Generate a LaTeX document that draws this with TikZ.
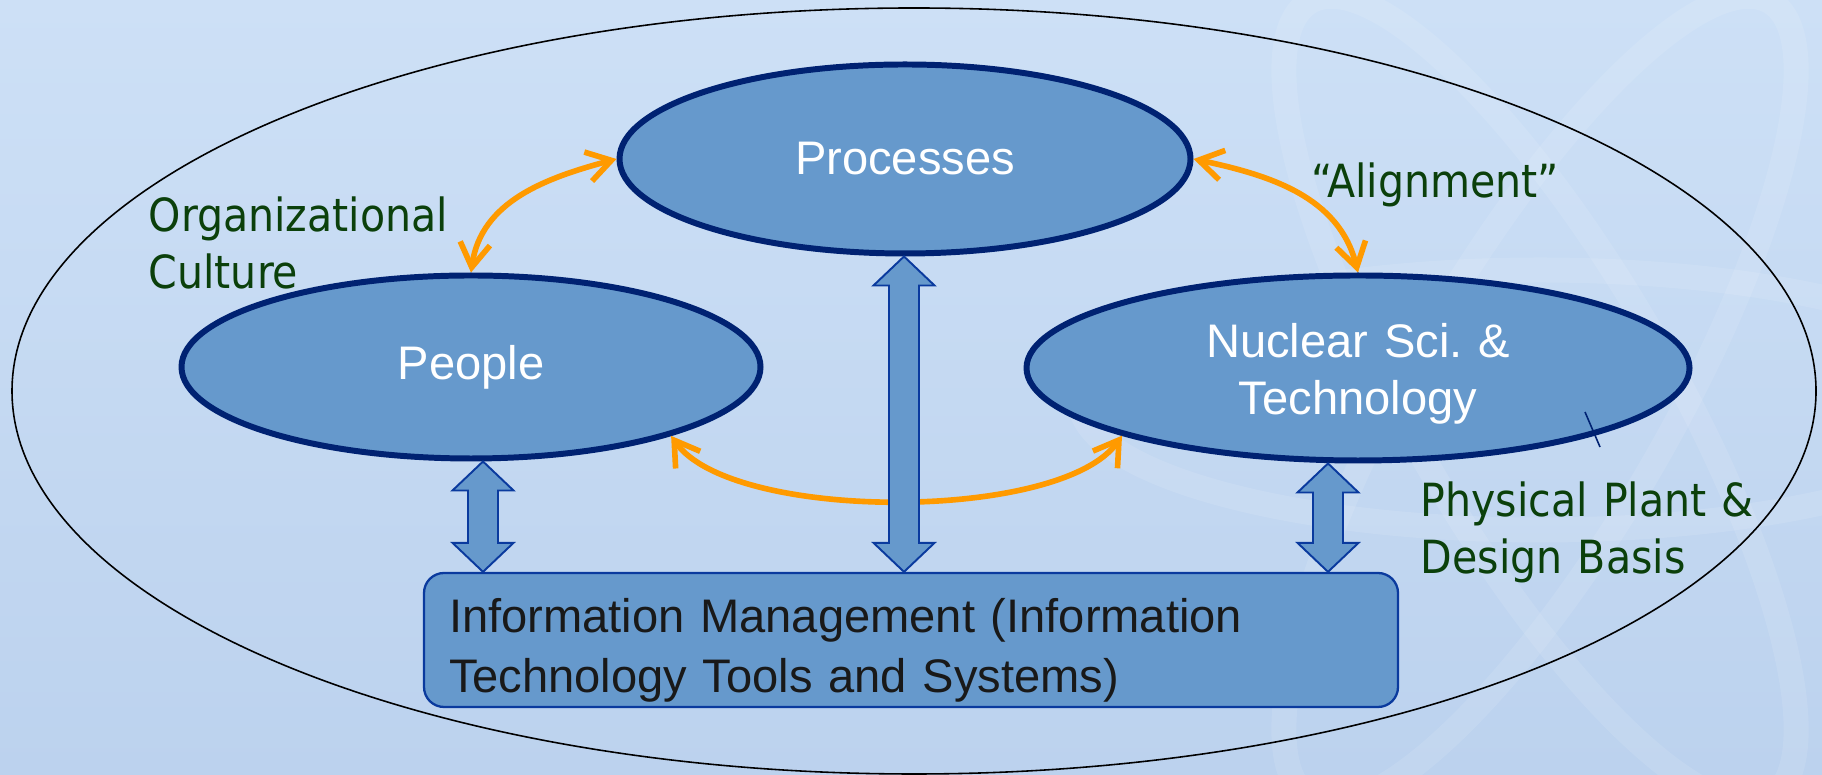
\documentclass[tikz,border=0pt]{standalone}
\usepackage{fontspec}
\setmainfont{Liberation Sans}
\newfontfamily\labelfont{DejaVu Sans Condensed}
\usetikzlibrary{shapes.geometric, arrows.meta, calc}

\definecolor{bgtop}{HTML}{CDE0F6}
\definecolor{bgbottom}{HTML}{BCD2EE}
\definecolor{boxblue}{HTML}{6699CC}
\definecolor{rimnavy}{HTML}{002272}
\definecolor{edgeblue}{HTML}{0A3A9E}
\definecolor{linkorange}{HTML}{FF9A00}
\definecolor{labelgreen}{HTML}{0B400B}

% two-headed vertical block arrow from #1 (top) to #2 (bottom)
\newcommand{\blockarrow}[2]{%
  \draw[blockarrow] let \p1 = (#1), \p2 = (#2) in
    (\x1, \y1) -- (\x1 + 3.05mm, \y1 - 2.9mm) -- (\x1 + 1.5mm, \y1 - 2.9mm)
    -- (\x1 + 1.5mm, \y2 + 2.9mm) -- (\x1 + 3.05mm, \y2 + 2.9mm) -- (\x1, \y2)
    -- (\x1 - 3.05mm, \y2 + 2.9mm) -- (\x1 - 1.5mm, \y2 + 2.9mm)
    -- (\x1 - 1.5mm, \y1 - 2.9mm) -- (\x1 - 3.05mm, \y1 - 2.9mm) -- cycle;}

\begin{document}
\begin{tikzpicture}[
    bubble/.style={ellipse, draw=rimnavy, line width=1.7pt, fill=boxblue, text=white,
      inner sep=0pt, font=\fontsize{13.4}{16.2}\selectfont},
    infobox/.style={rectangle, rounded corners=0.2cm, draw=edgeblue, line width=0.65pt,
      fill=boxblue, text=black!90, inner ysep=0pt, inner xsep=0.25cm, align=left,
      font=\fontsize{13.4}{16.8}\selectfont},
    greenlabel/.style={text=labelgreen, inner sep=0pt, align=left,
      font=\labelfont\fontsize{13}{16.2}\selectfont},
    link/.style={draw=linkorange, line width=1.6pt,
      {Straight Barb[length=2.4mm,width=3mm]}-{Straight Barb[length=2.4mm,width=3mm]}},
    blockarrow/.style={draw=edgeblue, line width=0.55pt, fill=boxblue, line join=miter}
  ]
  % background and the faint atom behind
  \shade[top color=bgtop, bottom color=bgbottom] (0,0) rectangle (18.22,-7.75);
  \useasboundingbox (0,0) rectangle (18.22,-7.75);
  \begin{scope}
    \clip (0,0) rectangle (18.22,-7.75);
    \foreach \a in {0, 60, 120}{
      \draw[white, opacity=0.1, line width=2.5mm, rotate around={\a:(15.4,-4.0)}]
        (15.4,-4.0) ellipse [x radius=4.6, y radius=1.3];
    }
  \end{scope}

  % the enclosing ellipse
  \draw[black, line width=0.45pt] (9.14,-3.91) ellipse [x radius=9.02, y radius=3.83];

  % the three ellipses
  \node[bubble, minimum width=5.71cm, minimum height=1.89cm] (processes) at (9.05,-1.59) {Processes};
  \node[bubble, minimum width=5.79cm, minimum height=1.83cm] (people) at (4.71,-3.67) {People};
  \node[bubble, minimum width=6.63cm, minimum height=1.85cm, text width=3.7cm, align=center,
    text height=0.47cm, text depth=0.67cm] (nuclear) at (13.58,-3.68) {Nuclear Sci.\ \&\\Technology};
  \draw[rimnavy, line width=0.45pt] (15.85,-4.12) -- (16.00,-4.47);

  % information management box
  \node[infobox, minimum width=9.74cm, minimum height=1.34cm, text width=9.24cm,
    text height=0.55cm, text depth=0.69cm] (info) at (9.11,-6.40)
    {Information Management (Information\\Technology Tools and Systems)};

  % labels
  \node[greenlabel, text width=3.3cm, anchor=base west] (culture) at (1.48,-2.32) {Organizational\\Culture};
  \node[greenlabel, anchor=base west] (alignment) at (13.11,-1.98) {“Alignment”};
  \node[greenlabel, text width=3.6cm, anchor=base west] (plant) at (14.20,-5.17) {Physical Plant \&\\Design Basis};

  % orange links
  \draw[link] (people.north) to[out=82, in=195] (processes.west);
  \draw[link] (processes.east) to[out=-12, in=104] (nuclear.north);
  \draw[link] (people.-19) to[out=-55, in=235, looseness=0.6] (nuclear.196);

  % block arrows down to the box
  \coordinate (peoplelink) at (4.83,0);
  \coordinate (processlink) at (9.04,0);
  \coordinate (nuclearlink) at (13.28,0);
  \blockarrow{peoplelink |- people.south}{peoplelink |- info.north}
  \blockarrow{processlink |- processes.south}{processlink |- info.north}
  \blockarrow{nuclearlink |- nuclear.south}{nuclearlink |- info.north}
\end{tikzpicture}
\end{document}
